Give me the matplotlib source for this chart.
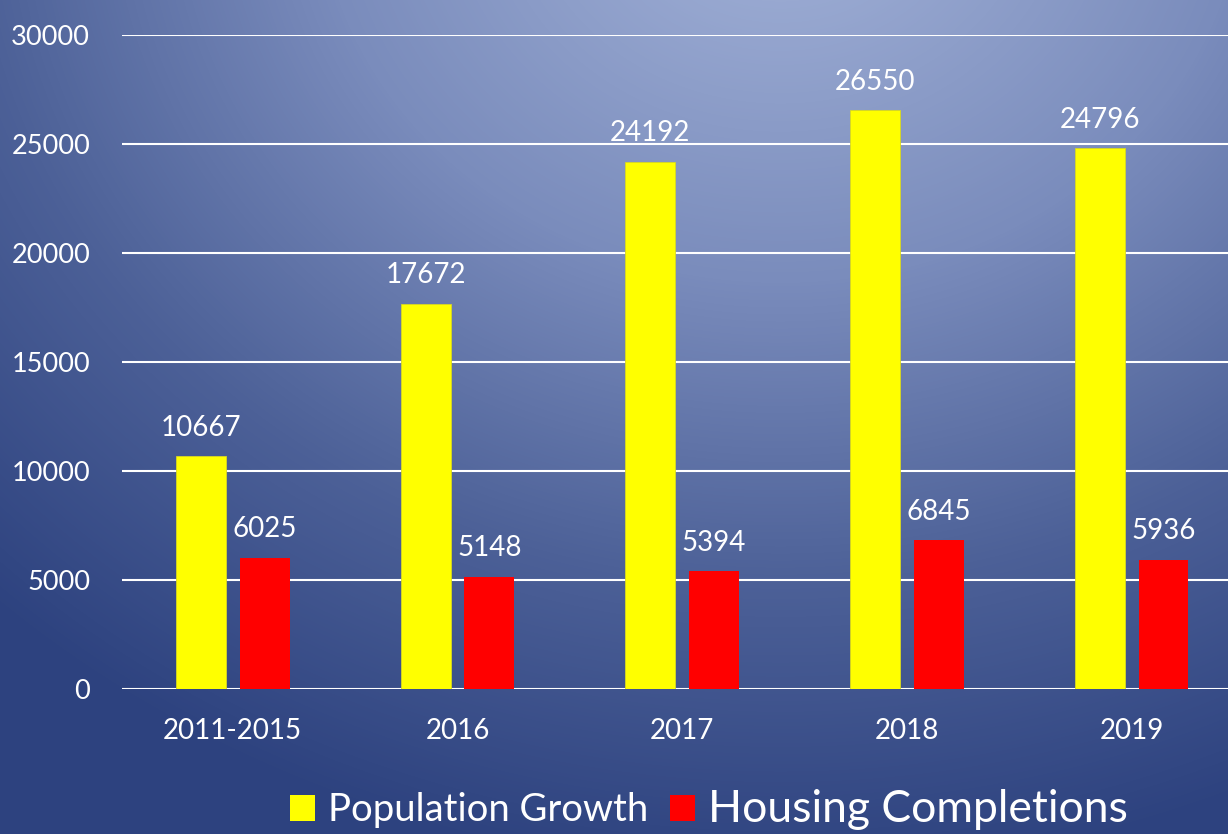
import matplotlib
matplotlib.use("Agg")
import matplotlib.pyplot as plt
import numpy as np
from matplotlib.colors import LinearSegmentedColormap
from matplotlib.patches import Patch

plt.rcParams["font.family"] = ["Lato", "DejaVu Sans"]

CATEGORIES = ["2011-2015", "2016", "2017", "2018", "2019"]
POPULATION = [10667, 17672, 24192, 26550, 24796]
HOUSING = [6025, 5148, 5394, 6845, 5936]
SERIES_NAMES = ["Population Growth", "Housing Completions"]
Y_TICKS = [0, 5000, 10000, 15000, 20000, 25000, 30000]

W, H = 1228, 834
fig = plt.figure(figsize=(W / 100, H / 100), dpi=100)

# radial blue gradient background
bg = fig.add_axes([0, 0, 1, 1], zorder=-10)
yy, xx = np.mgrid[0:H, 0:W]
r = np.hypot((xx - 780) / 1.15, yy + 120) / 1000.0
r = np.clip(r, 0, 1)
bg_cmap = LinearSegmentedColormap.from_list(
    "bg", ["#9aaad2", "#7a8cbc", "#4d6198", "#2d427f"], N=256
)
bg.imshow(r, cmap=bg_cmap, aspect="auto", extent=[0, W, H, 0], vmin=0.1, vmax=1.0)
bg.axis("off")

ax = fig.add_axes([122 / W, (H - 689) / H, (1245.5 - 122) / W, 654 / H])
ax.set_facecolor("none")

x = np.arange(len(CATEGORIES))
bw = 0.222
off = 0.142
b1 = ax.bar(x - off, POPULATION, bw, color="#ffff00", edgecolor="#d8d820", lw=0.6, zorder=3)
b2 = ax.bar(x + off, HOUSING, bw, color="#ff0000", lw=0, zorder=3)

for bars, vals in ((b1, POPULATION), (b2, HOUSING)):
    for rect, v in zip(bars, vals):
        ax.annotate(f"{v}", (rect.get_x() + rect.get_width() / 2, v),
                    xytext=(0, 11), textcoords="offset points",
                    ha="center", va="bottom", color="white", fontsize=20)

ax.set_xlim(-0.493, len(CATEGORIES) - 0.493)
ax.set_ylim(0, 30000)
ax.set_yticks(Y_TICKS)
ax.set_xticks(x)
ax.set_xticklabels(CATEGORIES)
ax.grid(axis="y", color="white", lw=1.5, zorder=1)
ax.set_axisbelow(True)
for s in ax.spines.values():
    s.set_visible(False)
ax.tick_params(axis="y", length=0, pad=23, labelsize=19.5, colors="white")
ax.tick_params(axis="x", length=0, pad=21, labelsize=20, colors="white")

handles = [Patch(facecolor="#ffff00"), Patch(facecolor="#ff0000")]
leg = fig.legend(handles, SERIES_NAMES, loc="center", bbox_to_anchor=(709 / W, 25 / H),
                 ncol=2, frameon=False, fontsize=27.5, labelcolor="white",
                 handlelength=0.65, handleheight=0.65, handletextpad=0.35,
                 columnspacing=0.55, borderaxespad=0)
leg.get_texts()[1].set_fontsize(32)

fig.savefig("out.png", dpi=100)
